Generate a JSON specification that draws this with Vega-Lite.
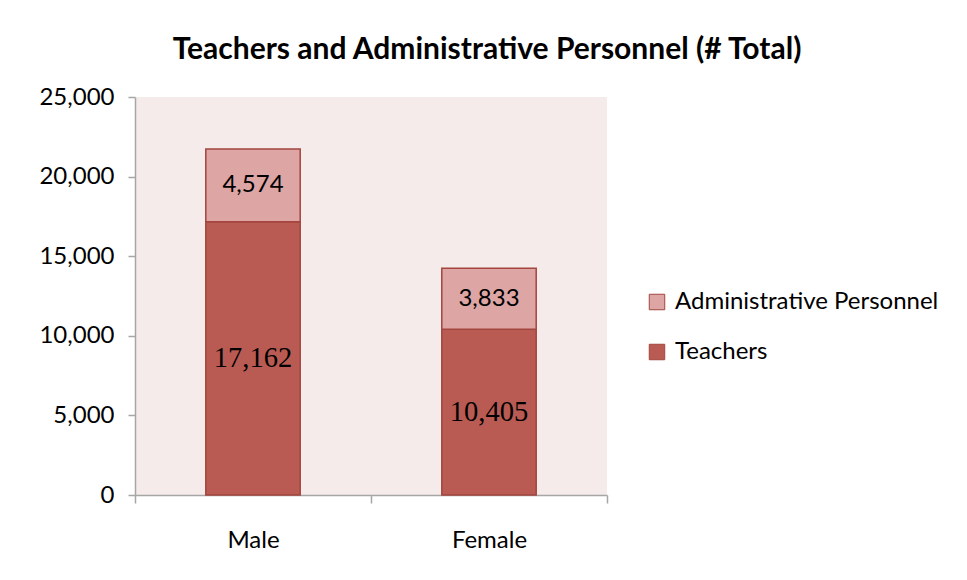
{
  "$schema": "https://vega.github.io/schema/vega-lite/v6.json",
  "width": 472,
  "height": 398,
  "autosize": {"type": "none"},
  "padding": {"left": 135, "top": 97, "right": 360, "bottom": 85},
  "background": "white",
  "title": {"text": "Teachers and Administrative Personnel (# Total)", "font": "Lato", "fontSize": 30, "fontWeight": "bold", "color": "black", "anchor": "middle", "dx": 116, "offset": 20},
  "data": {"values": [
    {"gender": "Male", "type": "Teachers", "value": 17162},
    {"gender": "Male", "type": "Administrative Personnel", "value": 4574},
    {"gender": "Female", "type": "Teachers", "value": 10405},
    {"gender": "Female", "type": "Administrative Personnel", "value": 3833}
  ]},
  "encoding": {
    "x": {"field": "gender", "type": "nominal", "sort": ["Male", "Female"],
      "scale": {"paddingInner": 0, "paddingOuter": 0},
      "axis": {"title": null, "labelAngle": 0, "tickBand": "extent", "tickSize": 8, "labelPadding": 25, "labelFont": "Lato", "labelFontSize": 24, "labelColor": "black", "domainColor": "#A6A6A6", "tickColor": "#A6A6A6", "domainWidth": 1.5, "tickWidth": 1.5}}
  },
  "layer": [
    {
      "mark": {"type": "bar", "stroke": "#A3463F", "strokeWidth": 1.5, "width": {"band": 0.4}},
      "encoding": {
        "y": {"field": "value", "type": "quantitative", "stack": "zero",
          "scale": {"domain": [0, 25000], "nice": false},
          "axis": {"title": null, "values": [0, 5000, 10000, 15000, 20000, 25000], "format": ",.0f", "labelFont": "Lato", "labelFontSize": 24, "labelColor": "black", "domainColor": "#A6A6A6", "tickColor": "#A6A6A6", "tickSize": 7, "labelPadding": 14, "grid": false, "domainWidth": 1.5, "tickWidth": 1.5}},
        "color": {"field": "type", "type": "nominal",
          "scale": {"domain": ["Administrative Personnel", "Teachers"], "range": ["#DDA5A4", "#B95B53"]},
          "legend": {"title": null, "orient": "none", "legendX": 510, "legendY": 193, "labelFont": "Lato", "labelFontSize": 24, "labelColor": "black", "symbolType": "square", "symbolSize": 240, "symbolStrokeColor": "#A3463F", "symbolStrokeWidth": 1, "rowPadding": 26, "labelOffset": 6, "labelLimit": 400}},
        "order": {"field": "type", "sort": "descending"}
      }
    },
    {
      "transform": [
        {"stack": "value", "groupby": ["gender"], "sort": [{"field": "type", "order": "descending"}], "as": ["y0", "y1"]},
        {"fold": ["y0", "y1"], "as": ["k", "pos"]},
        {"filter": "datum.type === 'Teachers'"}
      ],
      "mark": {"type": "text", "font": "Liberation Serif", "fontSize": 28.5, "color": "black"},
      "encoding": {
        "y": {"aggregate": "mean", "field": "pos", "type": "quantitative"},
        "text": {"aggregate": "max", "field": "value", "type": "quantitative", "format": ",.0f"}
      }
    },
    {
      "transform": [
        {"stack": "value", "groupby": ["gender"], "sort": [{"field": "type", "order": "descending"}], "as": ["y0", "y1"]},
        {"fold": ["y0", "y1"], "as": ["k", "pos"]},
        {"filter": "datum.type === 'Administrative Personnel'"}
      ],
      "mark": {"type": "text", "font": "Lato", "fontSize": 24, "color": "black"},
      "encoding": {
        "y": {"aggregate": "mean", "field": "pos", "type": "quantitative"},
        "text": {"aggregate": "max", "field": "value", "type": "quantitative", "format": ",.0f"}
      }
    }
  ],
  "config": {"view": {"stroke": null, "fill": "#F4EBEA"}}
}
